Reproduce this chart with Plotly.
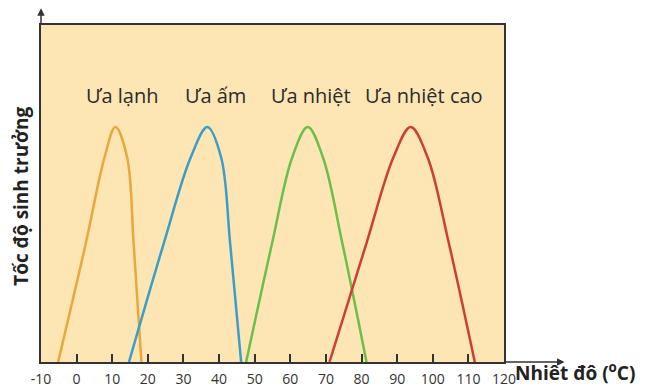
import plotly.graph_objects as go

# Nhiệt độ (°C) and relative growth rate
curve_y = [0, 0.353, 0.606, 0.697, 0.606, 0.353, 0]
lanh_x = [-5.2, 2.6, 7.8, 10.9, 14.2, 16.0, 18.2]
am_x = [14.7, 24.5, 32.0, 36.7, 40.6, 43.1, 46.2]
nhiet_x = [47.6, 54.9, 60.5, 64.9, 69.2, 74.6, 81.4]
cao_x = [71.0, 81.4, 88.9, 93.8, 98.6, 104.5, 111.8]

names = ["Ưa lạnh", "Ưa ấm", "Ưa nhiệt", "Ưa nhiệt cao"]
label_x = [12.7, 39.0, 65.7, 97.5]
label_y = 0.792
colors = ["#e8a83c", "#3a9ecb", "#6cbf48", "#cc3f38"]

tick_vals = list(range(-10, 121, 10))
tick_text = [str(v) for v in tick_vals]

fig = go.Figure()

for xs, c in zip([lanh_x, am_x, nhiet_x, cao_x], colors):
    fig.add_trace(go.Scatter(
        x=xs, y=curve_y, mode="lines",
        line=dict(color=c, width=2.5, shape="spline", smoothing=1.0),
        hoverinfo="skip", showlegend=False,
    ))

for name, lx in zip(names, label_x):
    fig.add_annotation(x=lx, y=label_y, text=name, showarrow=False,
                       font=dict(family="Open Sans", size=20, color="#2b2b2b"))

# arrows on the axes
fig.add_annotation(x=-10, y=1.05, ax=-10, ay=1, xref="x", yref="y",
                   axref="x", ayref="y", text="", showarrow=True,
                   arrowhead=2, arrowsize=1, arrowwidth=1.5, arrowcolor="#333")
fig.add_annotation(x=137, y=0, ax=120, ay=0, xref="x", yref="y",
                   axref="x", ayref="y", text="", showarrow=True,
                   arrowhead=2, arrowsize=1, arrowwidth=1.5, arrowcolor="#333")

fig.add_annotation(x=1.019, y=0, xref="paper", yref="y", xanchor="left",
                   yanchor="middle", yshift=-10, showarrow=False,
                   text="<b>Nhiêt đô (<sup>o</sup>C)</b>",
                   font=dict(family="Open Sans", size=19, color="#222"))
fig.add_annotation(x=-10, y=0.49, xref="x", yref="y", xshift=-20,
                   textangle=-90, showarrow=False,
                   text="<b>Tốc độ sinh trưởng</b>",
                   font=dict(family="Open Sans", size=19, color="#222"))

fig.update_xaxes(range=[-10, 120], tickvals=tick_vals, ticktext=tick_text,
                 ticks="inside", ticklen=8, tickwidth=1.5, tickcolor="#333",
                 showline=True, mirror=True, linecolor="#333", linewidth=1.5,
                 showgrid=False, zeroline=False, ticklabelstandoff=3,
                 automargin=False,
                 tickfont=dict(family="Open Sans", size=14, color="#333"))
fig.update_yaxes(range=[0, 1], showticklabels=False, ticks="",
                 showline=True, mirror=True, linecolor="#333", linewidth=1.5,
                 showgrid=False, zeroline=False, automargin=False)

# the page has an 8px body margin, so the figure sits 8px right and down
fig.update_layout(
    width=657, height=379,
    margin=dict(l=33, r=161, t=17, b=25),
    plot_bgcolor="#fde5b4", paper_bgcolor="white",
)

fig.write_html("out.html")
